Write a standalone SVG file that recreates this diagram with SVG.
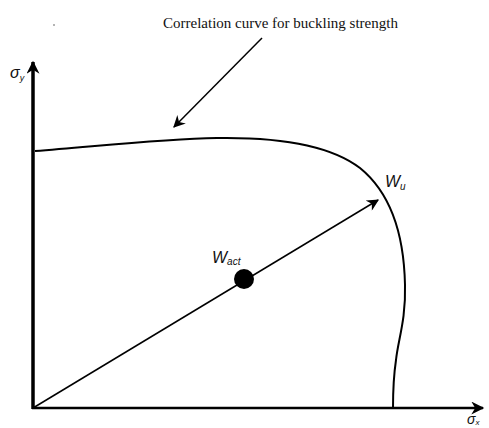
<svg xmlns="http://www.w3.org/2000/svg" width="489" height="428" viewBox="0 0 489 428">
<style>
.ln{fill:none;stroke:#000}
.lab{font-family:"Liberation Sans",Arial,sans-serif;font-style:italic;fill:#111}
.cap{font-family:"Liberation Serif","Times New Roman",serif;font-size:15px;fill:#111}
</style>
<defs>
<marker id="ahb" viewBox="0 0 10 10" refX="9" refY="5" markerWidth="17" markerHeight="13" markerUnits="userSpaceOnUse" orient="auto"><path d="M0,0 L10,5 L0,10 L3,5 Z" fill="#000"/></marker>
<marker id="ahs" viewBox="0 0 10 10" refX="9" refY="5" markerWidth="15" markerHeight="12" markerUnits="userSpaceOnUse" orient="auto"><path d="M0,0 L10,5 L0,10 L3,5 Z" fill="#000"/></marker>
</defs>
<rect width="489" height="428" fill="#fff"/>
<g id="axes">
<line class="ln" x1="33" y1="409" x2="33" y2="62" stroke-width="3.5" marker-end="url(#ahb)"/>
<line class="ln" x1="32" y1="408" x2="483" y2="408" stroke-width="2.5" marker-end="url(#ahb)"/>
</g>
<g id="curve">
<path class="ln" stroke-width="2" d="M35,151 C100,146 160,139 217,138 C280,137 330,145 360,168 C392,194 404,235 405,285 C406,320 398,340 396,360 C393,380 393,395 393,408"/>
</g>
<g id="connectors">
<line class="ln" x1="33" y1="408" x2="378" y2="200" stroke-width="1.5" marker-end="url(#ahs)"/>
<line class="ln" x1="262" y1="38" x2="174" y2="127" stroke-width="1.5" marker-end="url(#ahs)"/>
</g>
<g id="point">
<circle cx="244" cy="279" r="10" fill="#000"/>
</g>
<g id="labels">
<text class="cap" x="163" y="28">Correlation curve for buckling strength</text>
<text class="lab" x="10" y="78" font-size="16">σ<tspan font-size="9" dy="3">y</tspan></text>
<text class="lab" x="467" y="424" font-size="14">σ<tspan font-size="8" dy="1">x</tspan></text>
<text class="lab" x="385" y="187" font-size="16">W<tspan font-size="10" dy="3">u</tspan></text>
<text class="lab" x="212" y="263" font-size="16">W<tspan font-size="10" dy="2">act</tspan></text>
<circle cx="54" cy="25" r="0.8" fill="#555"/>
</g>
</svg>
